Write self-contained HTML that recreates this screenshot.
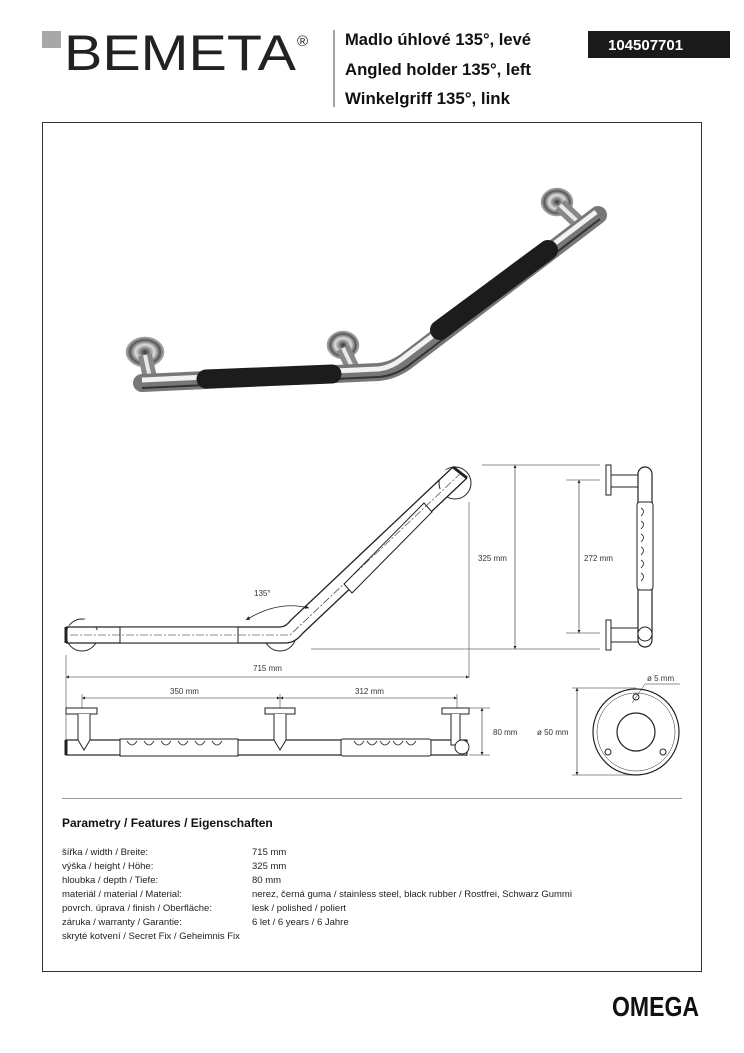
<!DOCTYPE html>
<html><head><meta charset="utf-8"><style>
html,body{margin:0;padding:0;background:#fff;}
svg{display:block;}
text{font-family:"Liberation Sans",sans-serif;}
</style></head><body>
<svg width="744" height="1053" viewBox="0 0 744 1053" xmlns="http://www.w3.org/2000/svg">
<defs>
<marker id="a" viewBox="0 0 6 6" refX="6" refY="3" markerWidth="5" markerHeight="5" orient="auto-start-reverse"><path d="M0 0 L6 3 L0 6 Z" fill="#222"/></marker>
<linearGradient id="chr" x1="0" y1="0" x2="0" y2="1"><stop offset="0" stop-color="#555"/><stop offset="0.35" stop-color="#f4f4f4"/><stop offset="0.6" stop-color="#999"/><stop offset="1" stop-color="#333"/></linearGradient>
<radialGradient id="ros"><stop offset="0" stop-color="#333"/><stop offset="0.5" stop-color="#ddd"/><stop offset="0.8" stop-color="#555"/><stop offset="1" stop-color="#bbb"/></radialGradient>
</defs>
<!-- header -->
<rect x="42" y="31" width="19" height="17" fill="#a8a8a8"/>
<text x="64" y="70" font-size="50" fill="#222" textLength="232" lengthAdjust="spacingAndGlyphs">BEMETA</text>
<text x="297" y="46" font-size="15" fill="#222">®</text>
<line x1="334" y1="30" x2="334" y2="107" stroke="#444" stroke-width="1"/>
<g font-weight="bold" font-size="17" fill="#111">
<text x="345" y="45" textLength="186" lengthAdjust="spacingAndGlyphs">Madlo úhlové 135°, levé</text>
<text x="345" y="75" textLength="186" lengthAdjust="spacingAndGlyphs">Angled holder 135°, left</text>
<text x="345" y="104" textLength="165" lengthAdjust="spacingAndGlyphs">Winkelgriff 135°, link</text>
</g>
<rect x="588" y="31" width="142" height="27" fill="#1a1a1a"/>
<text x="608" y="50" font-size="15" font-weight="bold" fill="#fff">104507701</text>

<!-- frame -->
<rect x="42.5" y="122.5" width="659" height="849" fill="none" stroke="#333" stroke-width="1"/>

<!-- photo -->
<g>
<ellipse cx="145" cy="352" rx="19" ry="15" fill="url(#ros)" stroke="#888" stroke-width="0.5"/>
<ellipse cx="343" cy="345" rx="16" ry="14" fill="url(#ros)" stroke="#888" stroke-width="0.5"/>
<ellipse cx="557" cy="202" rx="16" ry="14" fill="url(#ros)" stroke="#888" stroke-width="0.5"/>
<path d="M145 355 L150 378 M343 348 L355 373 M560 205 L578 222" stroke="#888" stroke-width="14"/>
<path d="M145 355 L150 378 M343 348 L355 373 M560 205 L578 222" stroke="#e8e8e8" stroke-width="4"/>
<path d="M142 383 L378 372 Q392 371 405 362 L598 215" stroke="#777" stroke-width="18" fill="none" stroke-linecap="round" stroke-linejoin="round"/>
<path d="M142 380 L378 369 Q390 368 402 359 L596 212" stroke="#f2f2f2" stroke-width="5" fill="none"/>
<path d="M142 388 L378 377 Q394 376 408 366 L600 219" stroke="#333" stroke-width="2" fill="none"/>
<path d="M206 379 L332 374" stroke="#1c1c1c" stroke-width="19" stroke-linecap="round"/>
<path d="M440 330 L548 250" stroke="#1c1c1c" stroke-width="20" stroke-linecap="round"/>
</g>

<g stroke="#222" fill="none" stroke-width="1">
<!-- top view -->
<circle cx="82" cy="635" r="16"/>
<circle cx="280" cy="635" r="16"/>
<circle cx="455" cy="483" r="16"/>
<path d="M66 627 L280 627 Q286 627 291 620 L453 467 M66 643 L285 643 Q295 643 302 634 L467 478" fill="#fff" stroke-width="1.3"/>
<path d="M66 627 L66 643" stroke-width="3"/>
<path d="M453 467 L467 478" stroke-width="3"/>
<rect x="120" y="627" width="118" height="16" fill="#fff"/>
<path d="M344 584 L352 593 L432 512 L424 503 Z" fill="#fff"/>
<path d="M70 635 L290 635 L462 472" stroke-dasharray="8 2 2 2" stroke-width="0.6"/>
<path d="M246 620 Q278 600 309 608" stroke-width="0.8" marker-start="url(#a)" marker-end="url(#a)"/>
<text x="254" y="596" font-size="8" fill="#333" stroke="none">135°</text>
<!-- 325 dims -->
<line x1="482" y1="465" x2="600" y2="465" stroke-width="0.5"/>
<line x1="311" y1="649" x2="600" y2="649" stroke-width="0.5"/>
<line x1="515" y1="465" x2="515" y2="649" stroke-width="0.6" marker-start="url(#a)" marker-end="url(#a)"/>
<line x1="469" y1="502" x2="469" y2="678" stroke-width="0.5"/>
<text x="478" y="561" font-size="8" fill="#333" stroke="none">325 mm</text>
<!-- side view -->
<rect x="606" y="465" width="5" height="30" fill="#fff"/>
<rect x="606" y="620" width="5" height="30" fill="#fff"/>
<path d="M611 475 L640 475 M611 487 L638 487 M611 628 L640 628 M611 642 L640 642"/>
<rect x="638" y="467" width="14" height="180" rx="7" fill="#fff" stroke-width="1.2"/>
<rect x="637" y="502" width="16" height="88" rx="3" fill="#fff"/>
<path d="M641 508 q5 3 0 8 M641 521 q5 3 0 8 M641 534 q5 3 0 8 M641 547 q5 3 0 8 M641 560 q5 3 0 8 M641 573 q5 3 0 8" stroke-width="0.8"/>
<circle cx="645" cy="634" r="7" fill="#fff"/>
<line x1="566" y1="480" x2="600" y2="480" stroke-width="0.5"/>
<line x1="566" y1="633" x2="600" y2="633" stroke-width="0.5"/>
<line x1="579" y1="480" x2="579" y2="633" stroke-width="0.6" marker-start="url(#a)" marker-end="url(#a)"/>
<text x="584" y="561" font-size="8" fill="#333" stroke="none">272 mm</text>
<!-- 715 -->
<line x1="66" y1="655" x2="66" y2="740" stroke-width="0.5"/>
<line x1="66" y1="677" x2="469" y2="677" stroke-width="0.6" marker-start="url(#a)" marker-end="url(#a)"/>
<text x="253" y="671" font-size="8" fill="#333" stroke="none">715 mm</text>
<line x1="82" y1="698" x2="280" y2="698" stroke-width="0.6" marker-start="url(#a)" marker-end="url(#a)"/>
<line x1="280" y1="698" x2="457" y2="698" stroke-width="0.6" marker-start="url(#a)" marker-end="url(#a)"/>
<line x1="82" y1="694" x2="82" y2="708" stroke-width="0.5"/>
<line x1="280" y1="694" x2="280" y2="708" stroke-width="0.5"/>
<line x1="457" y1="694" x2="457" y2="708" stroke-width="0.5"/>
<text x="170" y="694" font-size="8" fill="#333" stroke="none">350 mm</text>
<text x="355" y="694" font-size="8" fill="#333" stroke="none">312 mm</text>
<!-- front view -->
<rect x="66" y="740" width="401" height="15" fill="#fff" stroke-width="1.2"/>
<rect x="120" y="739" width="118" height="17" fill="#fff"/>
<rect x="341" y="739" width="90" height="17" rx="2" fill="#fff"/>
<path d="M127 741 q5 8 10 0 M144 741 q5 8 10 0 M161 741 q5 8 10 0 M178 741 q5 8 10 0 M195 741 q5 8 10 0 M212 741 q5 8 10 0" stroke-width="0.8"/>
<path d="M354 741 q5 8 10 0 M367 741 q5 8 10 0 M380 741 q5 8 10 0 M393 741 q5 8 10 0 M406 741 q5 8 10 0" stroke-width="0.8"/>
<rect x="66" y="708" width="31" height="6" fill="#fff"/>
<rect x="265" y="708" width="30" height="6" fill="#fff"/>
<rect x="442" y="708" width="27" height="6" fill="#fff"/>
<path d="M78 714 L78 740 L84 750 L90 740 L90 714" fill="#fff"/>
<path d="M274 714 L274 740 L280 750 L286 740 L286 714" fill="#fff"/>
<path d="M451 714 L451 745 L460 745 L460 714" fill="#fff"/>
<circle cx="462" cy="747" r="7" fill="#fff"/>
<line x1="66" y1="740" x2="66" y2="755" stroke-width="3"/>
<line x1="469" y1="708" x2="490" y2="708" stroke-width="0.5"/>
<line x1="469" y1="755" x2="490" y2="755" stroke-width="0.5"/>
<line x1="482" y1="708" x2="482" y2="755" stroke-width="0.6" marker-start="url(#a)" marker-end="url(#a)"/>
<text x="493" y="735" font-size="8" fill="#333" stroke="none">80 mm</text>
<!-- rosette -->
<circle cx="636" cy="732" r="43" stroke-width="1.2"/>
<circle cx="636" cy="732" r="39" stroke-width="0.5"/>
<circle cx="636" cy="732" r="19" stroke-width="1.2"/>
<circle cx="608" cy="752" r="3"/>
<circle cx="663" cy="752" r="3"/>
<circle cx="636" cy="697" r="3"/>
<line x1="632" y1="703" x2="645" y2="684" stroke-width="0.5"/>
<line x1="645" y1="684" x2="680" y2="684" stroke-width="0.5"/>
<text x="647" y="681" font-size="8" fill="#333" stroke="none">ø 5 mm</text>
<line x1="572" y1="688" x2="636" y2="688" stroke-width="0.5"/>
<line x1="572" y1="775" x2="636" y2="775" stroke-width="0.5"/>
<line x1="577" y1="688" x2="577" y2="775" stroke-width="0.6" marker-start="url(#a)" marker-end="url(#a)"/>
<text x="537" y="735" font-size="8" fill="#333" stroke="none">ø 50 mm</text>
<!-- separator -->
<line x1="62" y1="798.5" x2="682" y2="798.5" stroke="#999" stroke-width="1"/>
</g>

<text x="62" y="827" font-size="12" font-weight="bold" fill="#111">Parametry / Features / Eigenschaften</text>
<g font-size="9.5" fill="#222">
<text x="62" y="855">šířka / width / Breite:</text><text x="252" y="855">715 mm</text>
<text x="62" y="869">výška / height / Höhe:</text><text x="252" y="869">325 mm</text>
<text x="62" y="883">hloubka / depth / Tiefe:</text><text x="252" y="883">80 mm</text>
<text x="62" y="897">materiál / material / Material:</text><text x="252" y="897">nerez, černá guma / stainless steel, black rubber / Rostfrei, Schwarz Gummi</text>
<text x="62" y="911">povrch. úprava / finish / Oberfläche:</text><text x="252" y="911">lesk / polished / poliert</text>
<text x="62" y="925">záruka / warranty / Garantie:</text><text x="252" y="925">6 let / 6 years / 6 Jahre</text>
<text x="62" y="939">skryté kotvení / Secret Fix / Geheimnis Fix</text>
</g>
<text x="612" y="1016" font-size="28" font-weight="bold" fill="#111" textLength="87" lengthAdjust="spacingAndGlyphs">OMEGA</text>
</svg>
</body></html>
